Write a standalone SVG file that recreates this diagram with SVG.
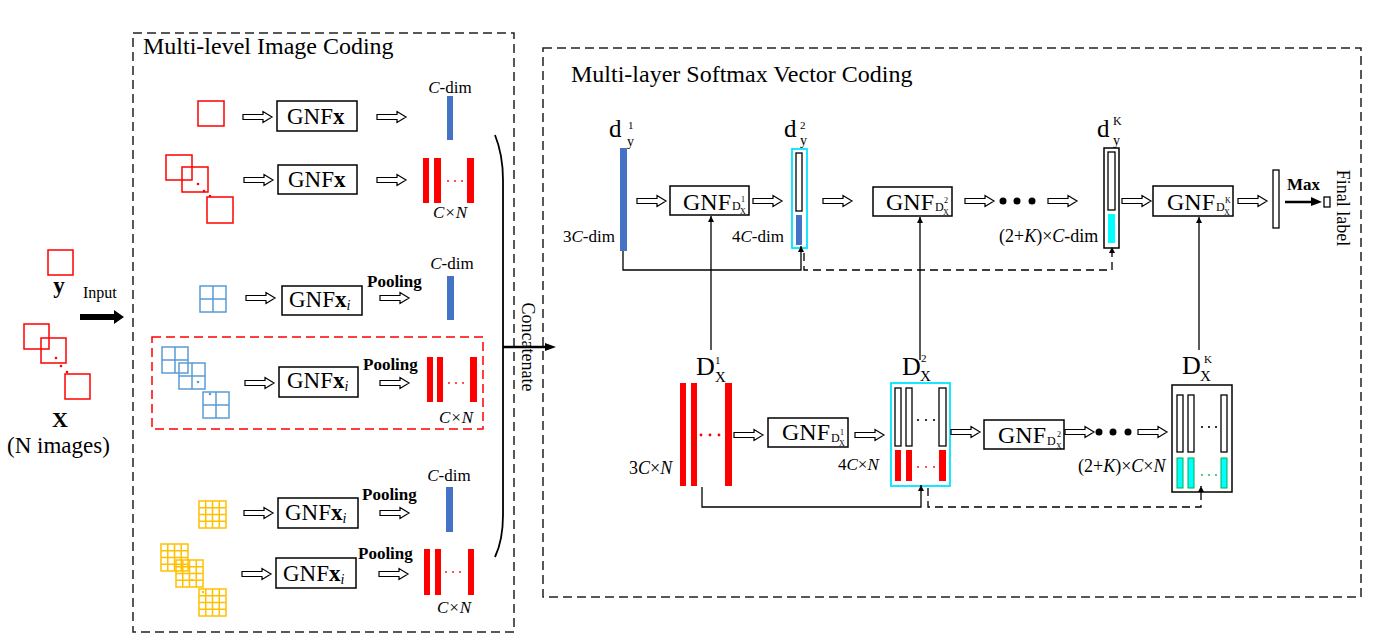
<svg xmlns="http://www.w3.org/2000/svg" width="1374" height="642" viewBox="0 0 1374 642" font-family="'Liberation Serif', 'Times New Roman', serif">
<style>
text{font-family:"Liberation Serif","Times New Roman",serif;fill:#000}
.title{font-size:24px}
.lbl{font-size:17px}
.gnf{font-size:23px}
.gnfr{font-size:24px}
.sd{font-size:12px}
.ss{font-size:8px}
.pool{font-size:17px;font-weight:bold}
.box{fill:#fff;stroke:#000;stroke-width:1.5}
.dash{fill:none;stroke:#222;stroke-width:1.5;stroke-dasharray:9,5}
.rdash{fill:none;stroke:#f00;stroke-width:1.5;stroke-dasharray:9,5}
.rsq{fill:none;stroke:#f00;stroke-width:1.5}
.bsq{fill:none;stroke:#5b9bd5;stroke-width:1.5}
.ysq{fill:none;stroke:#ffc000;stroke-width:1.5}
.red{fill:#f00}
.blue{fill:#4472c4}
.cy{fill:#00ffff}
.cyg{fill:#00ffff;stroke:#00b050;stroke-width:1}
.hol{fill:#fff;stroke:#000;stroke-width:1.3}
.cyanbox{fill:#fff;stroke:#00e5ff;stroke-width:1.8}
.ln{fill:none;stroke:#000;stroke-width:1.3}
.lnd{fill:none;stroke:#000;stroke-width:1.3;stroke-dasharray:8,5}
</style>
<defs>
<path id="ha" d="M0,-2.5H20V-5.5L29,0L20,5.5V2.5H0Z" fill="#fff" stroke="#000" stroke-width="1.2"/>
<g id="bg" class="bsq"><rect x="0" y="0" width="26" height="26"/><path d="M13,0V26M0,13H26"/></g>
<g id="yg" class="ysq"><rect x="0" y="0" width="27" height="27"/><path d="M6.75,0V27M13.5,0V27M20.25,0V27M0,6.75H27M0,13.5H27M0,20.25H27"/></g>
<marker id="ah" markerUnits="userSpaceOnUse" markerWidth="7" markerHeight="7" refX="6" refY="3" orient="auto"><path d="M0,0L6,3L0,6Z" fill="#000"/></marker>
</defs>
<rect width="1374" height="642" fill="#fff"/>

<!-- panels -->
<g id="panel-left">
<rect class="dash" x="133" y="33" width="381" height="599"/>
<text class="title" x="143" y="54">Multi-level Image Coding</text>
</g>
<g id="panel-right">
<rect class="dash" x="543" y="48" width="818" height="549"/>
<text class="title" x="571" y="82">Multi-layer Softmax Vector Coding</text>
</g>

<!-- inputs -->
<g id="input-y">
<rect class="rsq" x="48" y="250" width="25" height="25"/>
<text x="59" y="293" font-size="23" font-weight="bold" text-anchor="middle">y</text>
</g>
<g id="input-x">
<rect class="rsq" x="24" y="324" width="25" height="25"/>
<rect class="rsq" x="41" y="338" width="25" height="25"/>
<rect class="rsq" x="65" y="374" width="25" height="25"/>
<circle class="red" cx="56" cy="358" r="1.3"/>
<circle class="red" cx="61" cy="366" r="1.3"/>
<circle class="red" cx="67" cy="372" r="1.3"/>
<text x="60" y="427" font-size="22" font-weight="bold" text-anchor="middle">X</text>
<text x="7" y="453" font-size="23">(N images)</text>
</g>
<g id="input-arrow">
<text x="83" y="298" font-size="16">Input</text>
<path d="M80,314H114V310L124,317L114,324V320H80Z" fill="#000"/>
</g>

<!-- row 1 -->
<g id="row1">
<rect class="rsq" x="198" y="101" width="26" height="25"/>
<use href="#ha" x="243" y="117"/>
<rect class="box" x="277" y="101" width="80" height="30"/>
<text class="gnf" x="287" y="124">GNF<tspan font-weight="bold">x</tspan></text>
<use href="#ha" x="377" y="117"/>
<rect class="blue" x="447" y="96" width="6" height="44"/>
<text class="lbl" x="450" y="93" text-anchor="middle"><tspan font-style="italic">C</tspan>-dim</text>
</g>
<!-- row 2 -->
<g id="row2">
<rect class="rsq" x="166" y="155" width="26" height="25"/>
<rect class="rsq" x="182" y="167" width="26" height="25"/>
<rect class="rsq" x="207" y="197" width="26" height="26"/>
<circle class="red" cx="198" cy="184" r="1.3"/>
<circle class="red" cx="204" cy="191" r="1.3"/>
<circle class="red" cx="210" cy="196" r="1.3"/>
<use href="#ha" x="244" y="180"/>
<rect class="box" x="278" y="165" width="79" height="29"/>
<text class="gnf" x="288" y="187">GNF<tspan font-weight="bold">x</tspan></text>
<use href="#ha" x="377" y="180"/>
<rect class="red" x="423" y="158" width="6" height="45"/>
<rect class="red" x="434" y="158" width="7" height="45"/>
<rect class="red" x="467" y="158" width="7" height="45"/>
<circle class="red" cx="448" cy="181" r="0.9"/><circle class="red" cx="455" cy="181" r="0.9"/><circle class="red" cx="462" cy="181" r="0.9"/>
<text class="lbl" x="450" y="218" text-anchor="middle" font-style="italic">C×N</text>
</g>
<!-- row 3 -->
<g id="row3">
<use href="#bg" x="200" y="286"/>
<use href="#ha" x="246" y="298"/>
<rect class="box" x="282" y="286" width="80" height="29"/>
<text class="gnf" x="289" y="307">GNF<tspan font-weight="bold">x</tspan><tspan font-style="italic" font-size="14" dy="3">i</tspan></text>
<text class="pool" x="367" y="287">Pooling</text>
<use href="#ha" x="380" y="298"/>
<rect class="blue" x="447" y="276" width="7" height="44"/>
<text class="lbl" x="452" y="269" text-anchor="middle"><tspan font-style="italic">C</tspan>-dim</text>
</g>
<!-- row 4 -->
<g id="row4">
<rect class="rdash" x="152" y="337" width="331" height="92"/>
<use href="#bg" x="162" y="347"/>
<use href="#bg" x="179" y="363"/>
<use href="#bg" x="203" y="392"/>
<circle cx="198" cy="382" r="1.3" fill="#5b9bd5"/>
<circle cx="210" cy="394" r="1.3" fill="#5b9bd5"/>
<use href="#ha" x="245" y="383"/>
<rect class="box" x="279" y="367" width="79" height="30"/>
<text class="gnf" x="287" y="388">GNF<tspan font-weight="bold">x</tspan><tspan font-style="italic" font-size="14" dy="3">i</tspan></text>
<text class="pool" x="363" y="370">Pooling</text>
<use href="#ha" x="380" y="383"/>
<rect class="red" x="427" y="357" width="6" height="45"/>
<rect class="red" x="437" y="357" width="6" height="45"/>
<rect class="red" x="470" y="357" width="7" height="45"/>
<circle class="red" cx="449" cy="383" r="0.9"/><circle class="red" cx="456" cy="383" r="0.9"/><circle class="red" cx="463" cy="383" r="0.9"/>
<text class="lbl" x="456" y="423" text-anchor="middle" font-style="italic">C×N</text>
</g>
<!-- row 5 -->
<g id="row5">
<use href="#yg" x="199" y="501"/>
<use href="#ha" x="244" y="513"/>
<rect class="box" x="278" y="498" width="80" height="30"/>
<text class="gnf" x="285" y="520">GNF<tspan font-weight="bold">x</tspan><tspan font-style="italic" font-size="14" dy="3">i</tspan></text>
<text class="pool" x="362" y="500">Pooling</text>
<use href="#ha" x="380" y="513"/>
<rect class="blue" x="446" y="487" width="7" height="45"/>
<text class="lbl" x="449" y="481" text-anchor="middle"><tspan font-style="italic">C</tspan>-dim</text>
</g>
<!-- row 6 -->
<g id="row6">
<use href="#yg" x="161" y="544"/>
<use href="#yg" x="176" y="560"/>
<use href="#yg" x="199" y="589"/>
<circle cx="192" cy="580" r="1.2" fill="#ffc000"/>
<circle cx="203" cy="592" r="1.2" fill="#ffc000"/>
<use href="#ha" x="242" y="574"/>
<rect class="box" x="276" y="558" width="80" height="30"/>
<text class="gnf" x="283" y="581">GNF<tspan font-weight="bold">x</tspan><tspan font-style="italic" font-size="14" dy="3">i</tspan></text>
<text class="pool" x="358" y="559">Pooling</text>
<use href="#ha" x="379" y="574"/>
<rect class="red" x="424" y="549" width="6" height="46"/>
<rect class="red" x="435" y="549" width="6" height="46"/>
<rect class="red" x="468" y="549" width="6" height="46"/>
<circle class="red" cx="446" cy="572" r="0.9"/><circle class="red" cx="453" cy="572" r="0.9"/><circle class="red" cx="460" cy="572" r="0.9"/>
<text class="lbl" x="454" y="613" text-anchor="middle" font-style="italic">C×N</text>
</g>

<!-- concatenate -->
<g id="concat">
<path d="M495,135Q503,155 503,180V515Q503,540 495,557" fill="none" stroke="#000" stroke-width="1.8"/>
<text transform="translate(522,347) rotate(90)" font-size="18" text-anchor="middle">Concatenate</text>
<path d="M503,345.8H545V343L556,347L545,351V348.2H503Z" fill="#000"/>
</g>

<!-- top row right panel -->
<g id="dy1">
<text x="609" y="137" font-size="25">d</text>
<text x="628" y="129" font-size="11">1</text>
<text x="627" y="146" font-size="14">y</text>
<rect class="blue" x="620" y="148" width="7" height="103"/>
<text class="lbl" x="563" y="242">3<tspan font-style="italic">C</tspan>-dim</text>
</g>
<use href="#ha" x="637" y="201"/>
<g id="gnf-top1">
<rect class="box" x="670" y="186" width="79" height="29"/>
<text class="gnfr" x="683" y="210">GNF</text>
<text class="sd" x="732" y="210">D</text><text class="ss" x="741" y="202">1</text><text class="ss" x="740" y="214">X</text>
</g>
<use href="#ha" x="753" y="201"/>
<g id="dy2">
<text x="784" y="137" font-size="25">d</text>
<text x="800" y="129" font-size="11">2</text>
<text x="800" y="145" font-size="14">y</text>
<rect class="cyanbox" x="792" y="149" width="15" height="99"/>
<rect class="hol" x="796" y="153" width="6" height="58"/>
<rect class="blue" x="796" y="215" width="6" height="30"/>
<text class="lbl" x="732" y="242">4<tspan font-style="italic">C</tspan>-dim</text>
</g>
<use href="#ha" x="823" y="201"/>
<g id="gnf-top2">
<rect class="box" x="873" y="187" width="79" height="29"/>
<text class="gnfr" x="886" y="210">GNF</text>
<text class="sd" x="935" y="211">D</text><text class="ss" x="944" y="203">2</text><text class="ss" x="943" y="215">X</text>
</g>
<g id="dots-top">
<use href="#ha" x="965" y="201"/>
<circle cx="1003" cy="201" r="3.5"/><circle cx="1017" cy="201" r="3.5"/><circle cx="1032" cy="201" r="3.5"/>
<use href="#ha" x="1048" y="201"/>
</g>
<g id="dyK">
<text x="1097" y="137" font-size="25">d</text>
<text x="1113" y="125" font-size="12">K</text>
<text x="1113" y="145" font-size="14">y</text>
<rect class="box" x="1104" y="148" width="15" height="100"/>
<rect class="hol" x="1108" y="152" width="7" height="58"/>
<rect class="cy" x="1108" y="214" width="7" height="29"/>
<text x="999" y="242" font-size="18">(2+<tspan font-style="italic">K</tspan>)×<tspan font-style="italic">C</tspan>-dim</text>
</g>
<use href="#ha" x="1122" y="201"/>
<g id="gnf-topK">
<rect class="box" x="1153" y="186" width="80" height="30"/>
<text class="gnfr" x="1167" y="210">GNF</text>
<text class="sd" x="1216" y="211">D</text><text class="ss" x="1225" y="203">K</text><text class="ss" x="1224" y="215">X</text>
</g>
<use href="#ha" x="1238" y="201"/>
<g id="output">
<rect class="hol" x="1273" y="170" width="6" height="58"/>
<text x="1287" y="190" font-size="17" font-weight="bold">Max</text>
<path d="M1285,200.8H1311V197L1322,202L1311,206V203.2H1285Z" fill="#000"/>
<rect class="hol" x="1324" y="197" width="6" height="10"/>
<text transform="translate(1337,208) rotate(90)" font-size="18" text-anchor="middle">Final label</text>
</g>

<!-- bottom row -->
<g id="DX1">
<text x="696" y="375" font-size="26">D</text>
<text x="715" y="364" font-size="11">1</text>
<text x="715" y="382" font-size="15">X</text>
<rect class="red" x="680" y="383" width="6" height="103"/>
<rect class="red" x="691" y="383" width="6" height="103"/>
<rect class="red" x="725" y="383" width="7" height="103"/>
<circle class="red" cx="701" cy="435" r="1.4"/><circle class="red" cx="710" cy="435" r="1.4"/><circle class="red" cx="719" cy="435" r="1.4"/>
<text x="629" y="474" font-size="18">3<tspan font-style="italic">C</tspan>×<tspan font-style="italic">N</tspan></text>
</g>
<use href="#ha" x="734" y="435"/>
<g id="gnf-bot1">
<rect class="box" x="768" y="418" width="80" height="29"/>
<text class="gnfr" x="782" y="440">GNF</text>
<text class="sd" x="831" y="442">D</text><text class="ss" x="840" y="435">1</text><text class="ss" x="839" y="446">X</text>
</g>
<use href="#ha" x="855" y="435"/>
<g id="DX2">
<text x="902" y="375" font-size="26">D</text>
<text x="921" y="362" font-size="11">2</text>
<text x="920" y="381" font-size="15">X</text>
<rect class="cyanbox" x="891" y="383" width="59" height="103"/>
<rect class="hol" x="895" y="388" width="6" height="58"/>
<rect class="hol" x="906" y="388" width="6" height="58"/>
<rect class="hol" x="939" y="388" width="7" height="58"/>
<rect class="red" x="895" y="450" width="6" height="31"/>
<rect class="red" x="906" y="450" width="6" height="31"/>
<rect class="red" x="939" y="450" width="7" height="31"/>
<circle cx="918" cy="420" r="1.1"/><circle cx="926" cy="420" r="1.1"/><circle cx="934" cy="420" r="1.1"/>
<circle class="red" cx="918" cy="467" r="0.9"/><circle class="red" cx="926" cy="467" r="0.9"/><circle class="red" cx="934" cy="467" r="0.9"/>
<text x="838" y="470" font-size="17">4<tspan font-style="italic">C</tspan>×<tspan font-style="italic">N</tspan></text>
</g>
<use href="#ha" x="951" y="432"/>
<g id="gnf-bot2">
<rect class="box" x="984" y="420" width="80" height="29"/>
<text class="gnfr" x="998" y="443">GNF</text>
<text class="sd" x="1047" y="445">D</text><text class="ss" x="1057" y="437">2</text><text class="ss" x="1056" y="449">X</text>
</g>
<g id="dots-bot">
<use href="#ha" x="1065" y="432"/>
<circle cx="1099" cy="432" r="3.5"/><circle cx="1113" cy="432" r="3.5"/><circle cx="1128" cy="432" r="3.5"/>
<use href="#ha" x="1138" y="432"/>
</g>
<g id="DXK">
<text x="1182" y="374" font-size="26">D</text>
<text x="1204" y="363" font-size="11">K</text>
<text x="1200" y="381" font-size="15">X</text>
<rect class="box" x="1172" y="385" width="60" height="107"/>
<rect class="hol" x="1177" y="395" width="6" height="57"/>
<rect class="hol" x="1188" y="395" width="6" height="57"/>
<rect class="hol" x="1221" y="395" width="6" height="57"/>
<rect class="cyg" x="1177" y="458" width="6" height="30"/>
<rect class="cyg" x="1188" y="458" width="6" height="30"/>
<rect class="cyg" x="1221" y="458" width="6" height="30"/>
<circle cx="1202" cy="427" r="1.1"/><circle cx="1209" cy="427" r="1.1"/><circle cx="1216" cy="427" r="1.1"/>
<circle cx="1202" cy="475" r="0.9" fill="#00b050"/><circle cx="1209" cy="475" r="0.9" fill="#00b050"/><circle cx="1216" cy="475" r="0.9" fill="#00b050"/>
<text x="1078" y="472" font-size="18">(2+<tspan font-style="italic">K</tspan>)×<tspan font-style="italic">C</tspan>×<tspan font-style="italic">N</tspan></text>
</g>

<!-- connectors -->
<g id="connectors">
<path class="ln" d="M711,350V216" marker-end="url(#ah)"/>
<path class="ln" d="M920,360V217" marker-end="url(#ah)"/>
<path class="ln" d="M1199,350V217" marker-end="url(#ah)"/>
<path class="ln" d="M623,251V270H801V246" marker-end="url(#ah)"/>
<path class="lnd" d="M804,253V270H1112V247" marker-end="url(#ah)"/>
<path class="ln" d="M702,487V507H921V485" marker-end="url(#ah)"/>
<path class="lnd" d="M928,488V507H1201V486" marker-end="url(#ah)"/>
</g>
</svg>
